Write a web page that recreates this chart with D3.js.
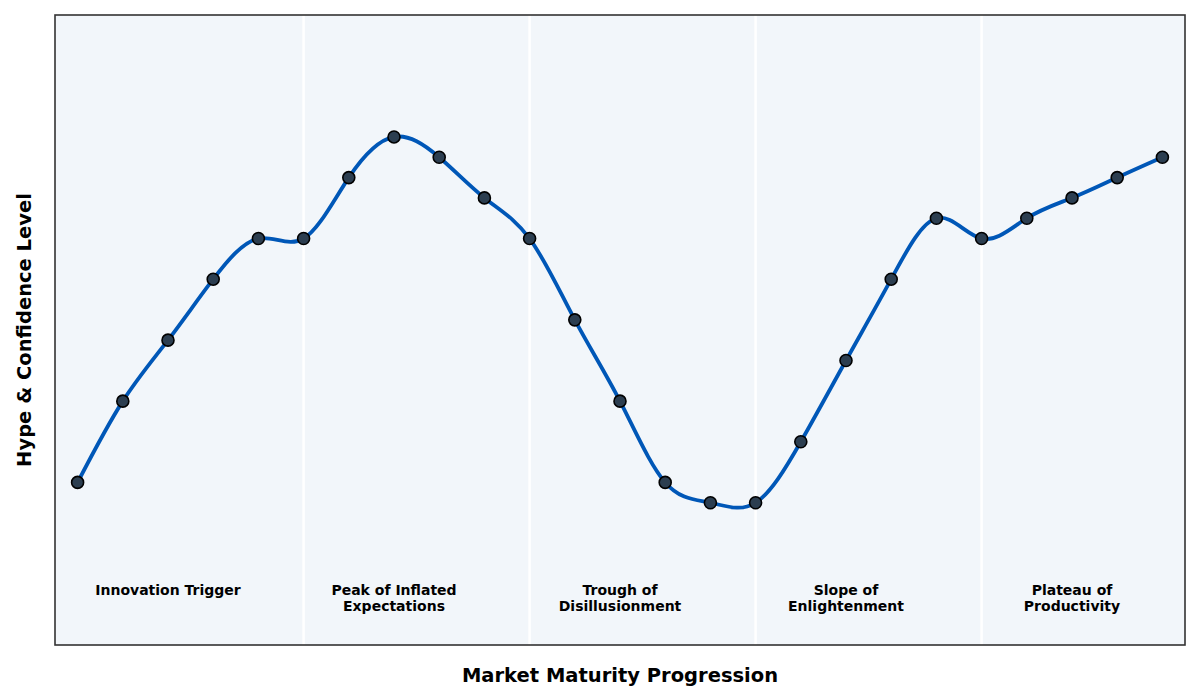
<!DOCTYPE html>
<html>
<head>
<meta charset="utf-8">
<script src="https://cdn.jsdelivr.net/npm/d3@7"></script>
<style>
  body { margin: 0; background: #fff; }
  text { font-family: "DejaVu Sans", sans-serif; }
</style>
</head>
<body>
<div id="main"></div>
<script>
// hype cycle values, one per step
var steps = d3.range(25);
var hype = [15, 35, 50, 65, 75, 75, 90, 100, 95, 85, 75, 55, 35, 15, 10, 10, 25, 45, 65, 80, 75, 80, 85, 90, 95];
var phaseBreaks = [5, 10, 15, 20];
var phaseCenters = [2, 7, 12, 17, 22];
var phaseLabels = [
  ["Innovation Trigger"],
  ["Peak of Inflated", "Expectations"],
  ["Trough of", "Disillusionment"],
  ["Slope of", "Enlightenment"],
  ["Plateau of", "Productivity"]
];
var yDomain = [-25, 130];
var xDomain = [-0.5, 24.5];

var width = 1200, height = 700;
var margin = { top: 15, right: 15, bottom: 55, left: 55 };
var w = width - margin.left - margin.right;
var h = height - margin.top - margin.bottom;

var svg = d3.select('#main').append('svg')
  .attr('width', width)
  .attr('height', height);

var g = svg.append('g')
  .attr('transform', 'translate(' + margin.left + ',' + margin.top + ')');

var x = d3.scaleLinear().domain(xDomain).range([0, w]);
var y = d3.scaleLinear().domain(yDomain).range([h, 0]);

g.append('rect')
  .attr('width', w)
  .attr('height', h)
  .attr('fill', '#f2f6fa');

// phase separators
g.selectAll('line.sep').data(phaseBreaks)
  .enter().append('line')
  .attr('class', 'sep')
  .attr('x1', function(d) { return x(d); })
  .attr('x2', function(d) { return x(d); })
  .attr('y1', 0)
  .attr('y2', h)
  .attr('stroke', '#ffffff')
  .attr('stroke-width', 2.5);

// phase labels
var labels = g.selectAll('text.phase').data(phaseLabels)
  .enter().append('text')
  .attr('class', 'phase')
  .attr('text-anchor', 'middle')
  .attr('font-size', 14)
  .attr('font-weight', 'bold')
  .attr('fill', '#000')
  .attr('transform', function(d, i) {
    return 'translate(' + x(phaseCenters[i]) + ',' + y(-12.8) + ')';
  });

labels.selectAll('tspan').data(function(d) { return d; })
  .enter().append('tspan')
  .attr('x', 0)
  .attr('dy', function(d, i) { return i === 0 ? 0 : 16; })
  .text(function(d) { return d; });

var pts = steps.map(function(s, i) { return [s, hype[i]]; });

var line = d3.line()
  .x(function(d) { return x(d[0]); })
  .y(function(d) { return y(d[1]); })
  .curve(d3.curveNatural);

g.append('path')
  .datum(pts)
  .attr('d', line)
  .attr('fill', 'none')
  .attr('stroke', '#0057b7')
  .attr('stroke-width', 3.8)
  .attr('stroke-linejoin', 'round');

g.selectAll('circle').data(pts)
  .enter().append('circle')
  .attr('cx', function(d) { return x(d[0]); })
  .attr('cy', function(d) { return y(d[1]); })
  .attr('r', 6)
  .attr('fill', '#2c3e50')
  .attr('stroke', '#000')
  .attr('stroke-width', 1.6);

// frame
g.append('rect')
  .attr('width', w)
  .attr('height', h)
  .attr('fill', 'none')
  .attr('stroke', '#333')
  .attr('stroke-width', 1.6);

svg.append('text')
  .attr('x', margin.left + w / 2)
  .attr('y', 682)
  .attr('text-anchor', 'middle')
  .attr('font-size', 19.5)
  .attr('font-weight', 'bold')
  .text('Market Maturity Progression');

svg.append('text')
  .attr('transform', 'translate(31,' + (margin.top + h / 2) + ') rotate(-90)')
  .attr('text-anchor', 'middle')
  .attr('font-size', 19.5)
  .attr('font-weight', 'bold')
  .text('Hype & Confidence Level');
</script>
</body>
</html>
